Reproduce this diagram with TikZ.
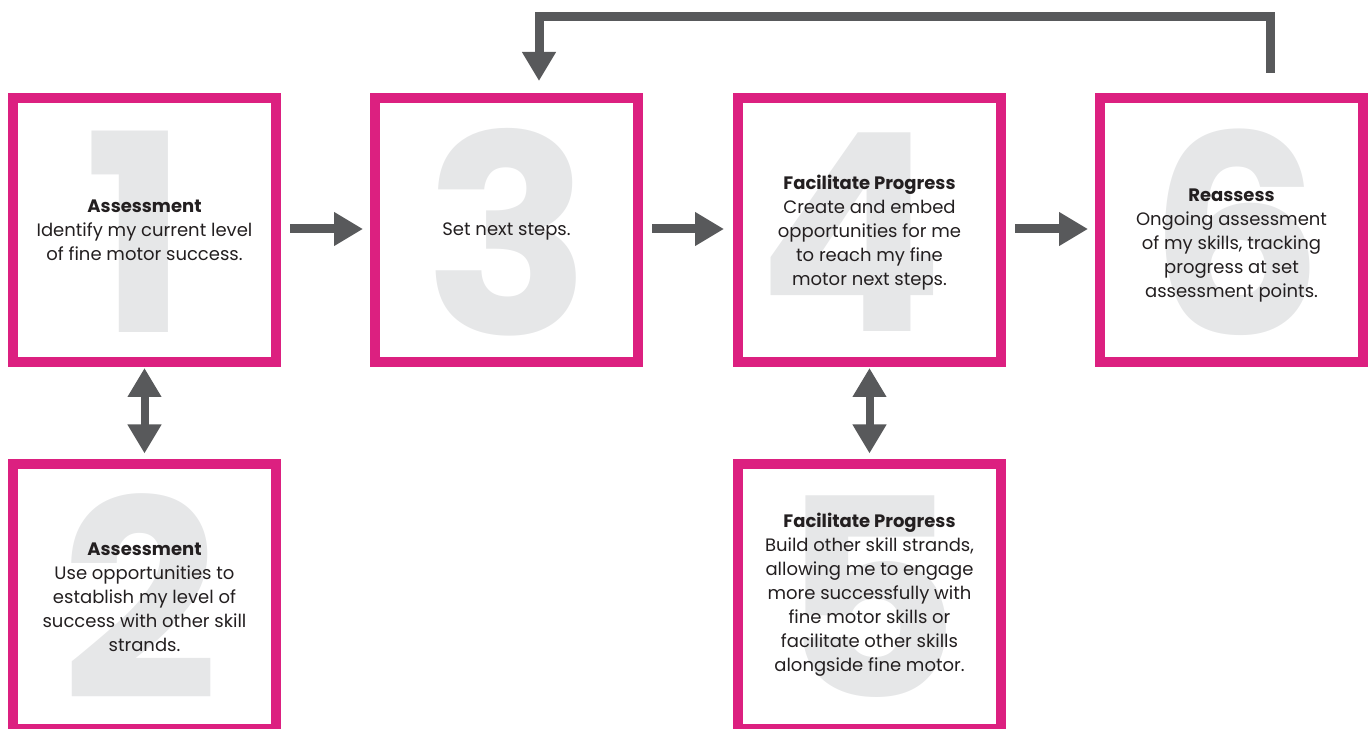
\documentclass[tikz,border=0pt]{standalone}
\usepackage{fontspec}
\setmainfont{Poppins}
\usetikzlibrary{arrows.meta}
\definecolor{pinkb}{RGB}{220,32,128}
\definecolor{arrgray}{RGB}{88,89,91}
\definecolor{diggray}{RGB}{230,231,232}
\definecolor{txtcol}{RGB}{35,31,32}
\tikzset{
  stepbox/.style={draw=pinkb, line width=10pt, minimum width=263pt, minimum height=264pt, inner sep=0pt},
  bignum/.style={text=diggray, font=\fontsize{276}{276}\selectfont\bfseries, inner sep=0pt},
  txt/.style={text=txtcol, align=center, font=\fontsize{18}{24}\selectfont, inner sep=0pt},
  arr/.style={draw=arrgray, line width=9pt, -{Triangle[length=29pt,width=32pt]}},
  darr/.style={draw=arrgray, line width=8pt, {Triangle[length=29pt,width=32pt]}-{Triangle[length=29pt,width=32pt]}}
}
\begin{document}
\begin{tikzpicture}[x=1pt,y=1pt]
\useasboundingbox (0,0) rectangle (1370,728);
% big numerals
\node[bignum] (n1) at (136,496) {1};
\node[bignum] (n3) at (508,496) {3};
\node[bignum] (n4) at (851,496) {4};
\node[bignum] (n6) at (1236,496) {6};
\node[bignum] (n2) at (140,131) {2};
\node[bignum] (n5) at (870,131) {5};
% boxes
\node[stepbox] (b1) at (144.5,498) {};
\node[stepbox] (b3) at (506.5,498) {};
\node[stepbox] (b4) at (869.5,498) {};
\node[stepbox] (b6) at (1231.5,498) {};
\node[stepbox] (b2) at (144.5,131.5) {};
\node[stepbox] (b5) at (869.5,131.5) {};
% texts
\node[txt] (t1) at ([yshift=0pt]b1.center) {{\bfseries Assessment}\\Identify my current level\\of fine motor success.};
\node[txt] (t3) at ([yshift=-1pt]b3.center) {Set next steps.};
\node[txt] (t4) at ([yshift=-3pt]b4.center) {{\bfseries Facilitate Progress}\\Create and embed\\opportunities for me\\to reach my fine\\motor next steps.};
\node[txt] (t6) at ([yshift=-16pt]b6.center) {{\bfseries Reassess}\\Ongoing assessment\\of my skills, tracking\\progress at set\\assessment points.};
\node[txt] (t2) at ([yshift=-1pt]b2.center) {{\bfseries Assessment}\\Use opportunities to\\establish my level of\\success with other skill\\strands.};
\node[txt] (t5) at ([yshift=2pt]b5.center) {{\bfseries Facilitate Progress}\\Build other skill strands,\\allowing me to engage\\more successfully with\\fine motor skills or\\facilitate other skills\\alongside fine motor.};
% arrows
\draw[arr] ([xshift=9pt,yshift=1pt]b1.east) -- ([xshift=-7pt,yshift=1pt]b3.west);
\draw[arr] ([xshift=9pt,yshift=1pt]b3.east) -- ([xshift=-9pt,yshift=1pt]b4.west);
\draw[arr] ([xshift=9pt,yshift=1pt]b4.east) -- ([xshift=-7pt,yshift=1pt]b6.west);
\draw[darr] ([yshift=-1pt]b1.south) -- ([yshift=6pt]b2.north);
\draw[darr] ([yshift=-1pt]b4.south) -- ([yshift=6pt]b5.north);
\coordinate (fbs) at ([xshift=38.5pt,yshift=20pt]b6.north);
\coordinate (fbe) at ([xshift=32.5pt,yshift=12pt]b3.north);
\draw[arr] (fbs) -- ++(0,56.5) -| (fbe);
\end{tikzpicture}
\end{document}
